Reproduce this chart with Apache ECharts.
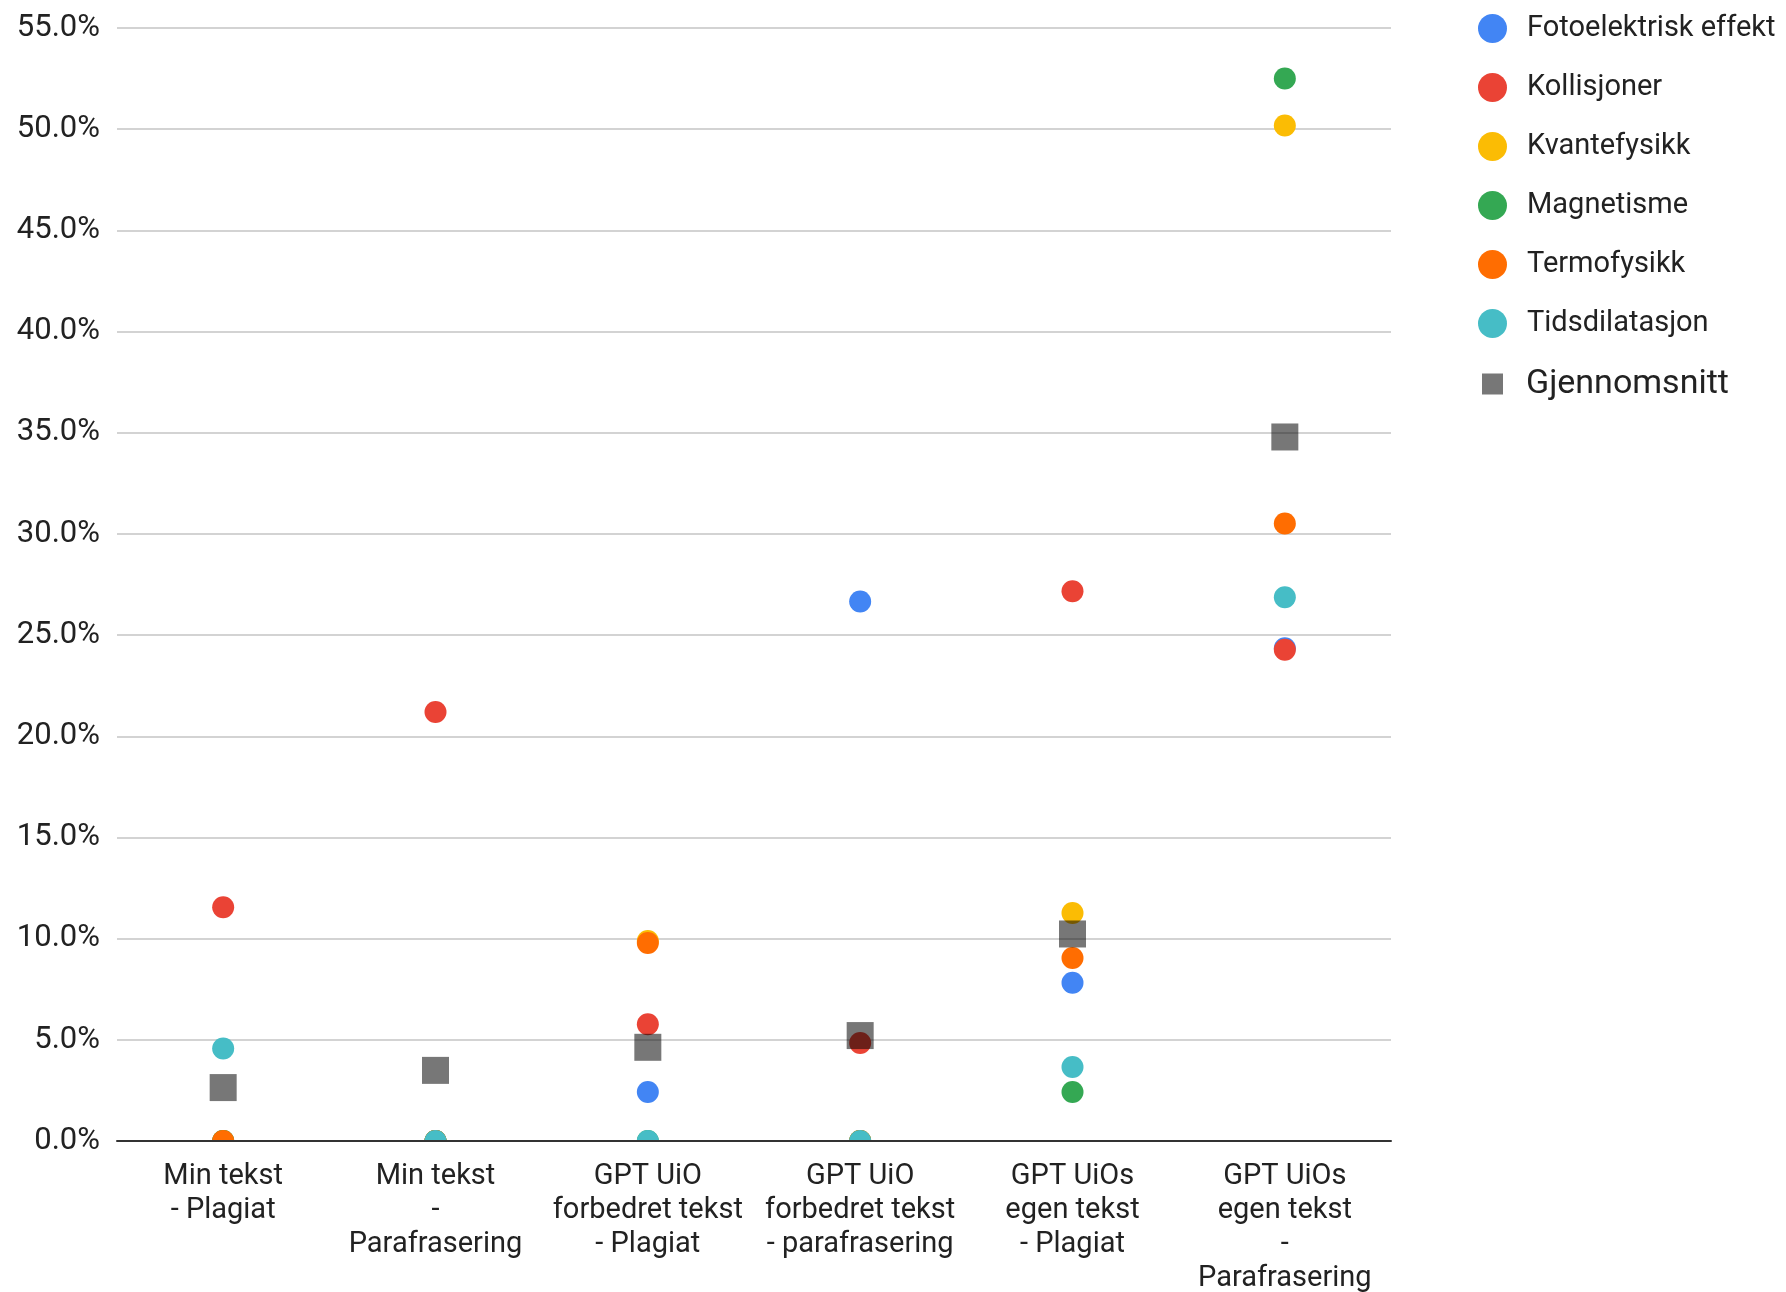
<!DOCTYPE html>
<html>
<head>
<meta charset="utf-8">
<script src="https://cdn.jsdelivr.net/npm/echarts@6/dist/echarts.min.js"></script>
<style>
  html, body { margin: 0; padding: 0; background: #fff; }
  #chart { width: 1786px; height: 1292px; }
</style>
</head>
<body>
<div id="chart"></div>
<script>
// Categories (test runs)
const categories = [
  'Min tekst\n- Plagiat',
  'Min tekst\n-\nParafrasering',
  'GPT UiO\nforbedret tekst\n- Plagiat',
  'GPT UiO\nforbedret tekst\n- parafrasering',
  'GPT UiOs\negen tekst\n- Plagiat',
  'GPT UiOs\negen tekst\n-\nParafrasering'
];

// Share (%) per topic
const fotoelektrisk = [0, 0, 2.42, 26.66, 7.82, 24.35];
const kollisjoner   = [11.55, 21.2, 5.77, 4.84, 27.17, 24.28];
const kvantefysikk  = [0, 0, 9.88, 0, 11.27, 50.18];
const magnetisme    = [0, 0, 0, 0, 2.42, 52.5];
const termofysikk   = [0, 0, 9.78, 0, 9.04, 30.51];
const tidsdilatasjon = [4.57, 0, 0, 0, 3.66, 26.87];
const gjennomsnitt  = [2.64, 3.49, 4.63, 5.21, 10.23, 34.79];

// Y axis ticks
const yMin = 0, yMax = 55, yStep = 5;

const topics = [
  { name: 'Fotoelektrisk effekt', data: fotoelektrisk, color: '#4285F4' },
  { name: 'Kollisjoner', data: kollisjoner, color: '#EA4335' },
  { name: 'Kvantefysikk', data: kvantefysikk, color: '#FBBC04' },
  { name: 'Magnetisme', data: magnetisme, color: '#34A853' },
  { name: 'Termofysikk', data: termofysikk, color: '#FF6D01' },
  { name: 'Tidsdilatasjon', data: tidsdilatasjon, color: '#46BDC6' }
];

const FONT = 'Roboto, "Noto Sans", Arial, sans-serif';
const TEXT = '#222222';

const series = topics.map(t => ({
  name: t.name,
  type: 'scatter',
  z: 2,
  data: t.data,
  symbol: 'circle',
  symbolSize: 22,
  clip: true,
  itemStyle: { color: t.color, opacity: 1 },
  emphasis: { disabled: true }
}));

// Average markers, multiplied over the dots beneath them
series.push({
  name: 'Gjennomsnitt',
  type: 'scatter',
  z: 2,
  data: gjennomsnitt,
  symbol: 'rect',
  symbolSize: 27,
  clip: true,
  blendMode: 'multiply',
  itemStyle: { color: '#777777', opacity: 1 },
  emphasis: { disabled: true }
});

const chart = echarts.init(document.getElementById('chart'), null, { renderer: 'canvas' });
chart.setOption({
  animation: false,
  backgroundColor: '#ffffff',
  grid: { left: 117, right: 395, top: 28, bottom: 151, containLabel: false, outerBoundsMode: 'none' },
  xAxis: {
    type: 'category',
    z: 6,
    data: categories,
    boundaryGap: true,
    axisLine: { show: true, lineStyle: { color: '#333333', width: 2 } },
    axisTick: { show: false },
    splitLine: { show: false },
    axisLabel: {
      interval: 0,
      margin: 19,
      color: TEXT,
      fontFamily: FONT,
      fontSize: 29,
      lineHeight: 34,
      align: 'center'
    }
  },
  yAxis: {
    type: 'value',
    min: yMin,
    max: yMax,
    interval: yStep,
    axisLine: { show: false },
    axisTick: { show: false },
    splitLine: { show: true, lineStyle: { color: '#d3d3d3', width: 2 } },
    axisLabel: {
      margin: 17,
      color: TEXT,
      fontFamily: FONT,
      fontSize: 31,
      formatter: v => v.toFixed(1) + '%'
    }
  },
  legend: [
    {
      data: topics.map(t => t.name),
      orient: 'vertical',
      left: 1478,
      top: 14,
      padding: 0,
      itemWidth: 29,
      itemHeight: 29,
      itemGap: 30,
      icon: 'circle',
      selectedMode: false,
      textStyle: { color: TEXT, fontFamily: FONT, fontSize: 29, lineHeight: 29, padding: [0, 0, 0, 15] }
    },
    {
      data: ['Gjennomsnitt'],
      orient: 'vertical',
      left: 1482,
      top: 367,
      padding: 0,
      itemWidth: 21,
      itemHeight: 21,
      icon: 'rect',
      selectedMode: false,
      textStyle: { color: TEXT, fontFamily: FONT, fontSize: 34, lineHeight: 34, padding: [0, 0, 0, 18] }
    }
  ],
  series: series
});

// Markers are cut off at the baseline: cover the strip under the x axis
const base = chart.convertToPixel({ yAxisIndex: 0 }, yMin);
const leftPx = chart.convertToPixel({ xAxisIndex: 0 }, 0) - 60;
const rightPx = chart.convertToPixel({ xAxisIndex: 0 }, categories.length - 1) + 60;
chart.setOption({
  graphic: [{
    type: 'rect',
    z: 4,
    silent: true,
    shape: { x: leftPx, y: base, width: rightPx - leftPx, height: 20 },
    style: { fill: '#ffffff' }
  }]
});
</script>
</body>
</html>
